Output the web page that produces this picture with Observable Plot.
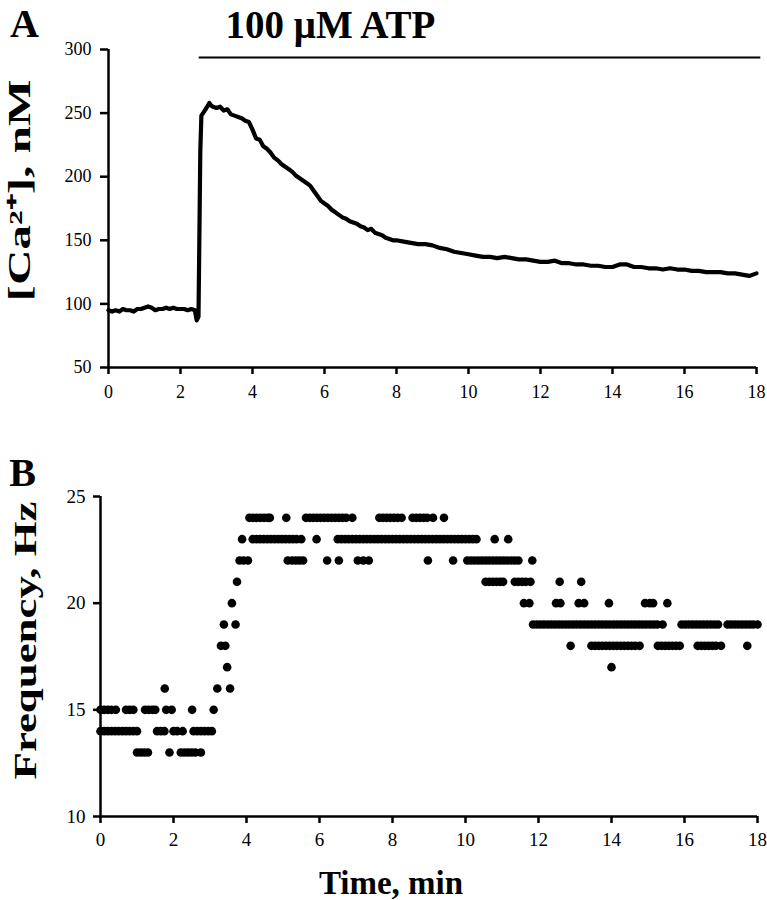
<!DOCTYPE html>
<html>
<head>
<meta charset="utf-8">
<script src="https://cdn.jsdelivr.net/npm/d3@7"></script>
<script src="https://cdn.jsdelivr.net/npm/@observablehq/plot@0.6"></script>
<style>
  html, body { margin: 0; padding: 0; background: #fff; }
  #wrap { position: relative; width: 767px; height: 900px; overflow: hidden; background: #fff; }
  #panelA { position: absolute; left: 0; top: 0; }
  #panelB { position: absolute; left: 0; top: 420px; }
</style>
</head>
<body>
<div id="wrap"><div id="panelA"></div><div id="panelB"></div></div>
<script>
// ---------- Panel A: [Ca2+] trace ----------
const caTime = [0.0,0.1,0.2,0.3,0.4,0.5,0.6,0.7,0.8,0.9,1.0,1.1,1.2,1.3,1.4,1.5,1.6,1.7,1.8,1.9,2.0,2.1,2.2,2.3,2.4,2.45,2.5,2.55,2.58,2.65,2.72,2.8,2.85,2.9,3.0,3.1,3.2,3.3,3.4,3.5,3.6,3.7,3.8,3.9,4.0,4.1,4.2,4.3,4.4,4.5,4.6,4.7,4.8,4.9,5.0,5.1,5.2,5.3,5.4,5.5,5.6,5.7,5.8,5.9,6.0,6.1,6.2,6.3,6.4,6.5,6.6,6.7,6.8,6.9,7.0,7.1,7.2,7.3,7.4,7.5,7.6,7.7,7.8,7.9,8.0,8.2,8.4,8.6,8.8,9.0,9.2,9.4,9.6,9.8,10.0,10.2,10.4,10.6,10.8,11.0,11.2,11.4,11.6,11.8,12.0,12.2,12.4,12.6,12.8,13.0,13.2,13.4,13.6,13.8,14.0,14.2,14.4,14.6,14.8,15.0,15.2,15.4,15.6,15.8,16.0,16.2,16.4,16.6,16.8,17.0,17.2,17.4,17.6,17.8,17.9,18.0];
const caNM   = [95,94,95,94,96,95,95,94,96,96,97,98,97,95,96,96,97,96,97,96,96,96,95,96,95,87,90,220,248,251,254,258,256,255,254,255,252,253,249,248,247,246,244,243,237,230,229,224,222,219,215,213,210,208,206,204,201,199,197,195,193,189,185,181,179,177,174,172,170,168,167,165,164,163,161,160,158,159,156,155,154,152,151,150,150,149,148,147,147,146,144,143,141,140,139,138,137,137,136,137,136,135,135,134,133,133,134,132,132,131,131,130,130,129,129,131,131,129,129,128,128,127,128,127,127,126,126,125,125,125,124,124,123,122,123,124];
const caTicksX = [0,2,4,6,8,10,12,14,16,18];
const caTicksY = [50,100,150,200,250,300];
const atpBar = [{start: 2.52, end: 18.12, level: 293.7}];

// ---------- Panel B: frequency dots (time in min per frequency level in Hz) ----------
const t13 = [1.0,1.1,1.2,1.3,1.89,2.2,2.3,2.4,2.5,2.6,2.75];
const t14 = [0.0,0.1,0.2,0.3,0.4,0.5,0.6,0.7,0.8,0.9,1.0,1.55,1.65,1.75,2.0,2.1,2.25,2.55,2.65,2.75,2.85,2.95,3.05];
const t15 = [0.0,0.1,0.2,0.3,0.42,0.7,0.8,0.9,1.22,1.32,1.42,1.5,1.8,1.95,2.51,3.1];
const t16 = [1.76,3.2,3.55];
const t17 = [3.47,14.0];
const t18 = [3.3,3.42,12.88,13.45,13.55,13.65,13.75,13.85,13.95,14.05,14.15,14.25,14.35,14.45,14.55,14.65,14.77,15.27,15.37,15.47,15.57,15.67,15.77,15.87,16.36,16.46,16.56,16.66,16.76,16.86,17.0,17.72];
const t19 = [3.38,3.7,11.85,11.95,12.05,12.15,12.25,12.35,12.45,12.55,12.65,12.75,12.85,12.95,13.05,13.15,13.25,13.35,13.45,13.55,13.65,13.75,13.85,13.95,14.05,14.15,14.25,14.35,14.45,14.55,14.65,14.75,14.85,14.95,15.05,15.15,15.25,15.4,15.92,16.02,16.12,16.22,16.32,16.42,16.52,16.62,16.72,16.82,16.92,17.18,17.28,17.38,17.48,17.58,17.68,17.78,17.88,18.0];
const t20 = [3.6,11.6,11.75,12.48,12.6,13.1,13.25,13.93,14.92,15.05,15.14,15.53];
const t21 = [3.74,10.55,10.65,10.75,10.85,10.95,11.03,11.35,11.45,11.55,11.65,11.78,12.58,13.17];
const t22 = [3.81,3.92,4.04,5.13,5.25,5.35,5.45,5.55,6.21,6.53,7.05,7.2,7.35,8.97,9.66,10.05,10.15,10.25,10.35,10.45,10.55,10.65,10.75,10.85,10.95,11.05,11.15,11.25,11.35,11.45,11.83];
const t23 = [3.88,4.17,4.27,4.37,4.47,4.57,4.67,4.77,4.87,4.97,5.07,5.17,5.27,5.37,5.5,5.92,6.5,6.6,6.7,6.8,6.9,7.0,7.1,7.2,7.3,7.4,7.5,7.6,7.7,7.8,7.9,8.0,8.1,8.2,8.3,8.4,8.5,8.6,8.7,8.8,8.9,9.0,9.1,9.2,9.3,9.4,9.5,9.6,9.7,9.8,9.9,10.0,10.1,10.2,10.3,10.8,11.17];
const t24 = [4.08,4.18,4.28,4.38,4.48,4.58,4.64,5.09,5.63,5.73,5.83,5.93,6.03,6.13,6.23,6.33,6.43,6.53,6.63,6.73,6.9,7.64,7.74,7.84,7.94,8.04,8.14,8.25,8.55,8.65,8.75,8.85,8.95,9.11,9.41];
const hzLevels = [13,14,15,16,17,18,19,20,21,22,23,24];
const hzTimes  = [t13,t14,t15,t16,t17,t18,t19,t20,t21,t22,t23,t24];
const hzTicksX = [0,2,4,6,8,10,12,14,16,18];
const hzTicksY = [10,15,20,25];

// ---------- Build tables ----------
const caData = caTime.map((t, i) => ({t, v: caNM[i]}));
const hzData = hzLevels.flatMap((hz, i) => hzTimes[i].map(t => ({t, hz})));

const FONT = "'Liberation Serif', 'Times New Roman', serif";

const plotA = Plot.plot({
  width: 767, height: 420,
  marginLeft: 108, marginRight: 11, marginTop: 49, marginBottom: 53,
  style: {fontFamily: FONT, fontSize: "17px", color: "#000", background: "transparent", overflow: "visible"},
  x: {domain: [0, 18]},
  y: {domain: [50, 300]},
  marks: [
    Plot.axisX({ticks: caTicksX, tickSize: 7, tickPadding: 11, strokeWidth: 2.5, label: null, fontSize: 18}),
    Plot.axisY({ticks: caTicksY, tickSize: 8, tickPadding: 9, strokeWidth: 2.5, label: null, fontSize: 18}),
    Plot.ruleX([0], {strokeWidth: 2.5}),
    Plot.ruleY([50], {strokeWidth: 2.5}),
    Plot.ruleY(atpBar, {y: "level", x1: "start", x2: "end", strokeWidth: 2, clip: false}),
    Plot.line(caData, {x: "t", y: "v", stroke: "#000", strokeWidth: 4.2, strokeLinejoin: "round", strokeLinecap: "round"}),
    Plot.text(["100 μM ATP"], {frameAnchor: "top", dx: -102, dy: -24, fontSize: 39, fontWeight: "bold", lineAnchor: "middle"}),
    Plot.text(["A"], {frameAnchor: "top-left", dx: -84, dy: -25, fontSize: 40, fontWeight: "bold", lineAnchor: "middle", textAnchor: "middle"}),
    Plot.text(["[Ca²⁺], nM"], {frameAnchor: "left", dx: -88, dy: -18, rotate: -90, fontSize: 31, fontWeight: "bold", lineAnchor: "middle", textAnchor: "middle"})
  ]
});
document.getElementById("panelA").appendChild(plotA);

const plotB = Plot.plot({
  width: 767, height: 480,
  marginLeft: 100, marginRight: 10, marginTop: 76, marginBottom: 84,
  style: {fontFamily: FONT, fontSize: "19px", color: "#000", background: "transparent", overflow: "visible"},
  x: {domain: [0, 18]},
  y: {domain: [10, 25]},
  marks: [
    Plot.axisX({ticks: hzTicksX, tickSize: 7, tickPadding: 9, strokeWidth: 2.5, label: null, fontSize: 19}),
    Plot.axisY({ticks: hzTicksY, tickSize: 7, tickPadding: 8, strokeWidth: 2.5, label: null, fontSize: 19}),
    Plot.ruleX([0], {strokeWidth: 2.5}),
    Plot.ruleY([10], {strokeWidth: 2.5}),
    Plot.dot(hzData, {x: "t", y: "hz", r: 4.3, fill: "#000", stroke: null}),
    Plot.text(["Frequency, Hz"], {frameAnchor: "left", dx: -75, dy: -16, rotate: -90, fontSize: 32, fontWeight: "bold", lineAnchor: "middle", textAnchor: "middle"}),
    Plot.text(["Time, min"], {frameAnchor: "bottom", dx: -38, dy: 67, fontSize: 33, fontWeight: "bold", lineAnchor: "middle", textAnchor: "middle"}),
    Plot.text(["B"], {frameAnchor: "top-left", dx: -78, dy: -23, fontSize: 40, fontWeight: "bold", lineAnchor: "middle", textAnchor: "middle"})
  ]
});
document.getElementById("panelB").appendChild(plotB);

// Stretch the rotated axis titles along their length, as in the reference figure
function stretch(svg, label, len) {
  d3.select(svg).selectAll("text")
    .filter(function () { return this.textContent === label; })
    .attr("textLength", len)
    .attr("lengthAdjust", "spacingAndGlyphs");
}
stretch(plotA, "[Ca²⁺], nM", 222);
stretch(plotB, "Frequency, Hz", 278);
</script>
</body>
</html>
